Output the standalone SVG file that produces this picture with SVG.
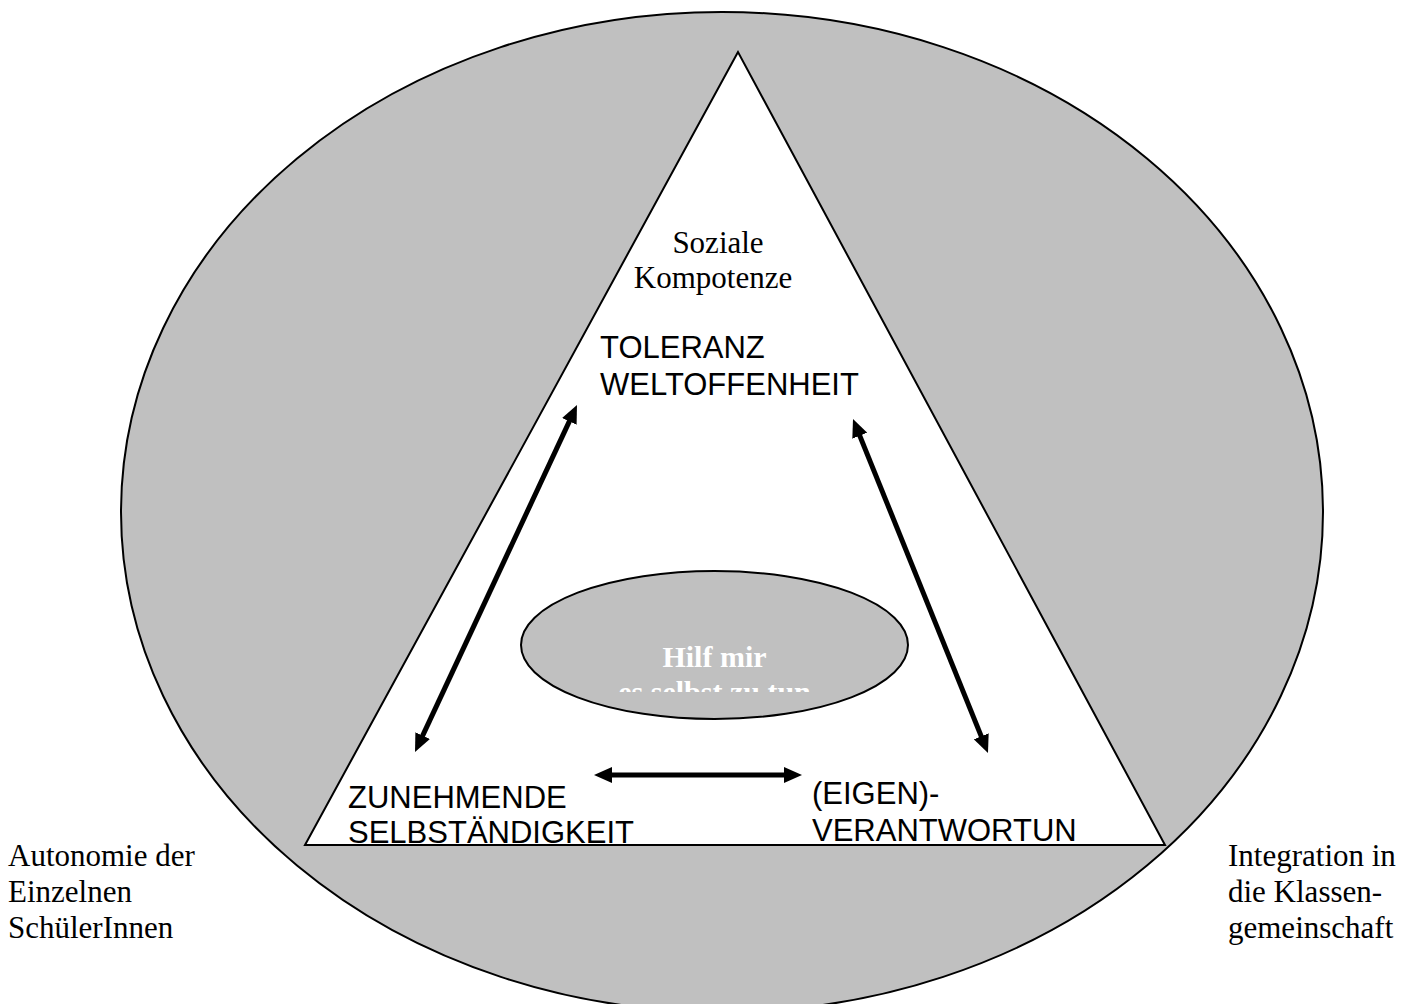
<svg xmlns="http://www.w3.org/2000/svg" width="1418" height="1004" viewBox="0 0 1418 1004">
  <style>
    .serif { font-family: "Liberation Serif", "Times New Roman", serif; font-size: 31px; fill: #000; }
    .sans { font-family: "Liberation Sans", Arial, sans-serif; font-size: 31px; fill: #000; }
    .inner { font-family: "Liberation Serif", "Times New Roman", serif; font-size: 30px; font-weight: bold; fill: #ffffff; }
    .arrow { stroke: #000; stroke-width: 5; fill: none; marker-start: url(#head); marker-end: url(#head); }
  </style>
  <defs>
    <marker id="head" viewBox="0 0 3.6 3.2" refX="1.2" refY="1.6" markerWidth="3.6" markerHeight="3.2" markerUnits="strokeWidth" orient="auto-start-reverse">
      <path d="M0,0 L3.6,1.6 L0,3.2 z" fill="#000"/>
    </marker>
    <clipPath id="clipInner">
      <rect x="500" y="560" width="420" height="132"/>
    </clipPath>
    <clipPath id="clipBase">
      <rect x="300" y="760" width="880" height="84"/>
    </clipPath>
  </defs>

  <rect x="0" y="0" width="1418" height="1004" fill="#ffffff"/>

  <g id="outer-ellipse">
    <ellipse cx="722" cy="512" rx="601" ry="500" fill="#c0c0c0" stroke="#000" stroke-width="2"/>
  </g>

  <g id="triangle">
    <polygon points="738,52 305,845 1165,845" fill="#ffffff" stroke="#000" stroke-width="2"/>
  </g>

  <g id="soziale">
    <text class="serif" x="718" y="253" text-anchor="middle">Soziale</text>
    <text class="serif" x="713" y="288" text-anchor="middle">Kompotenze</text>
  </g>

  <g id="toleranz">
    <text class="sans" x="600" y="358">TOLERANZ</text>
    <text class="sans" x="600" y="395">WELTOFFENHEIT</text>
  </g>

  <g id="inner-ellipse">
    <ellipse cx="714.5" cy="645" rx="193.5" ry="74" fill="#c0c0c0" stroke="#000" stroke-width="2"/>
    <g clip-path="url(#clipInner)">
      <text class="inner" x="714.5" y="667" text-anchor="middle">Hilf mir</text>
      <text class="inner" x="714.5" y="702" text-anchor="middle">es selbst zu tun</text>
    </g>
  </g>

  <g id="selbstaendigkeit" clip-path="url(#clipBase)">
    <text class="sans" x="348" y="808">ZUNEHMENDE</text>
    <text class="sans" x="348" y="843">SELBSTÄNDIGKEIT</text>
  </g>

  <g id="verantwortung" clip-path="url(#clipBase)">
    <text class="sans" x="812" y="804">(EIGEN)-</text>
    <text class="sans" x="812" y="841">VERANTWORTUN</text>
  </g>

  <g id="autonomie">
    <text class="serif" x="8" y="866">Autonomie der</text>
    <text class="serif" x="8" y="902">Einzelnen</text>
    <text class="serif" x="8" y="938">SchülerInnen</text>
  </g>

  <g id="integration">
    <text class="serif" x="1228" y="866">Integration in</text>
    <text class="serif" x="1228" y="902">die Klassen-</text>
    <text class="serif" x="1228" y="938">gemeinschaft</text>
  </g>

  <g id="connectors">
    <line class="arrow" x1="571.9" y1="415.9" x2="420.1" y2="741.1"/>
    <line class="arrow" x1="857.5" y1="430.1" x2="983.5" y2="741.9"/>
    <line class="arrow" x1="606" y1="775" x2="790" y2="775"/>
  </g>
</svg>
